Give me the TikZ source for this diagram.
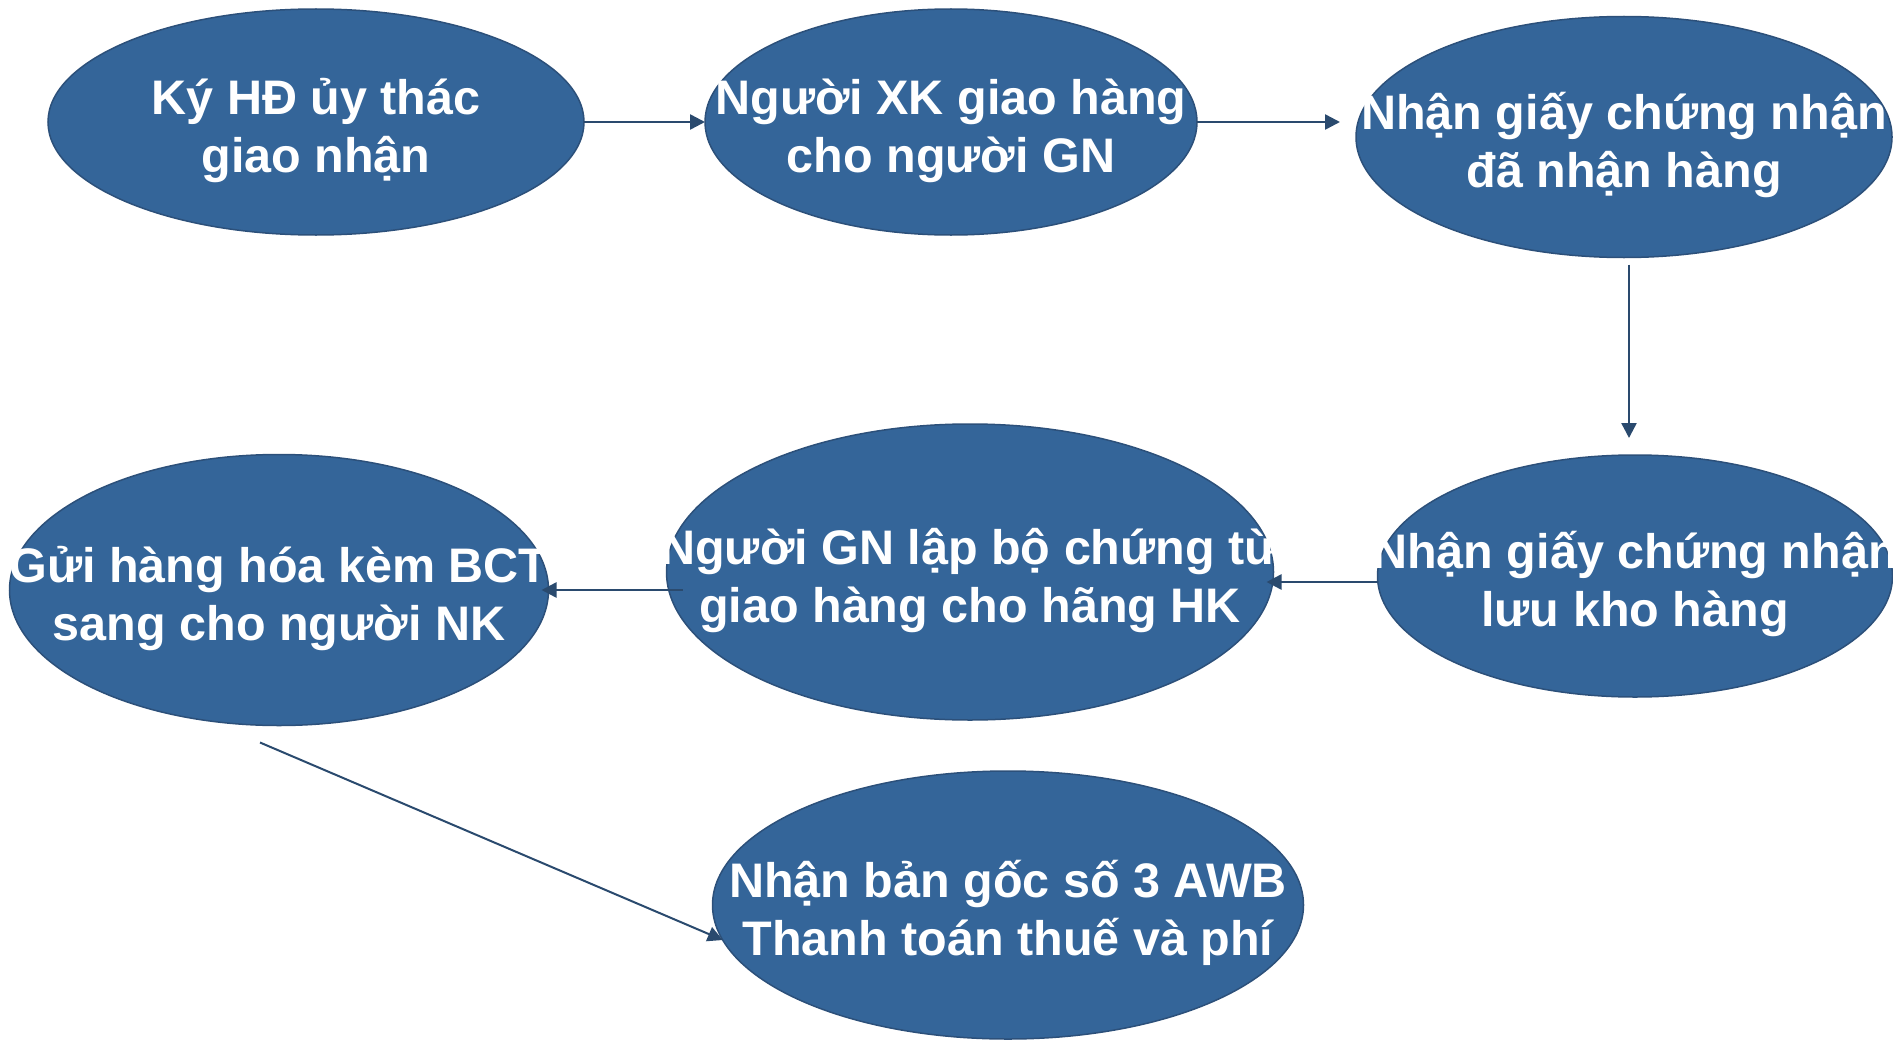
\documentclass[tikz,border=0pt]{standalone}
\usepackage{fontspec}
\setmainfont{Liberation Sans}
\usetikzlibrary{shapes.geometric,arrows.meta}
\definecolor{stagefill}{RGB}{52,101,153}
\definecolor{stageline}{RGB}{44,80,122}
\definecolor{flowcol}{RGB}{42,74,110}
\newcommand{\steptext}[2]{\lineskiplimit=-50pt\relax
  \makebox[0pt]{\rule{0pt}{56pt}#1}\\\makebox[0pt]{\rule[-14pt]{0pt}{14pt}#2}}

\begin{document}
\begin{tikzpicture}[x=1pt, y=-1pt,
    stage/.style={ellipse, draw=stageline, line width=1.5pt, fill=stagefill,
      text=white, font=\bfseries\fontsize{48.5}{58}\selectfont,
      align=center, inner sep=0pt, outer sep=0pt},
    flow/.style={draw=flowcol, line width=2.5pt, -{Triangle[length=15pt,width=15pt]}}]
        \useasboundingbox (0,0) rectangle (1893,1041);

        \node[stage, minimum width=536, minimum height=226] (n1) at (316,122)
          {\steptext{Ký HĐ ủy thác}{giao nhận}};
        \node[stage, minimum width=492, minimum height=226] (n2) at (951,122)
          {\steptext{Người XK giao hàng}{cho người GN}};
        \node[stage, minimum width=536, minimum height=241] (n3) at (1624,137)
          {\steptext{Nhận giấy chứng nhận}{đã nhận hàng}};
        \node[stage, minimum width=515, minimum height=242] (n4) at (1635,576)
          {\steptext{Nhận giấy chứng nhận}{lưu kho hàng}};
        \node[stage, minimum width=607, minimum height=296] (n5) at (970,572)
          {\steptext{Người GN lập bộ chứng từ}{giao hàng cho hãng HK}};
        \node[stage, minimum width=539, minimum height=271] (n6) at (279,590)
          {\steptext{Gửi hàng hóa kèm BCT}{sang cho người NK}};
        \node[stage, minimum width=591, minimum height=268] (n7) at (1008,905)
          {\steptext{Nhận bản gốc số 3 AWB}{Thanh toán thuế và phí}};

        % flow of the steps
        \draw[flow] (n1.east) -- (n2.west);
        \draw[flow] (n2.east) -- ([xshift=-16]n2.east -| n3.west);
        \draw[flow] ([xshift=5,yshift=-7]n3.south) -- ([xshift=5,yshift=17]n3.south |- n4.north);
        \draw[flow] ([yshift=-6]n4.west) -- ([xshift=-7,yshift=-6]n4.west -| n5.east);
        \draw[flow] ([xshift=16]n5.west |- n6.east) -- ([xshift=-7]n6.east);
        \draw[flow, line width=2pt] ([shift={(-19,17)}]n6.south) -- (n7.187);
    \end{tikzpicture}
\end{document}
